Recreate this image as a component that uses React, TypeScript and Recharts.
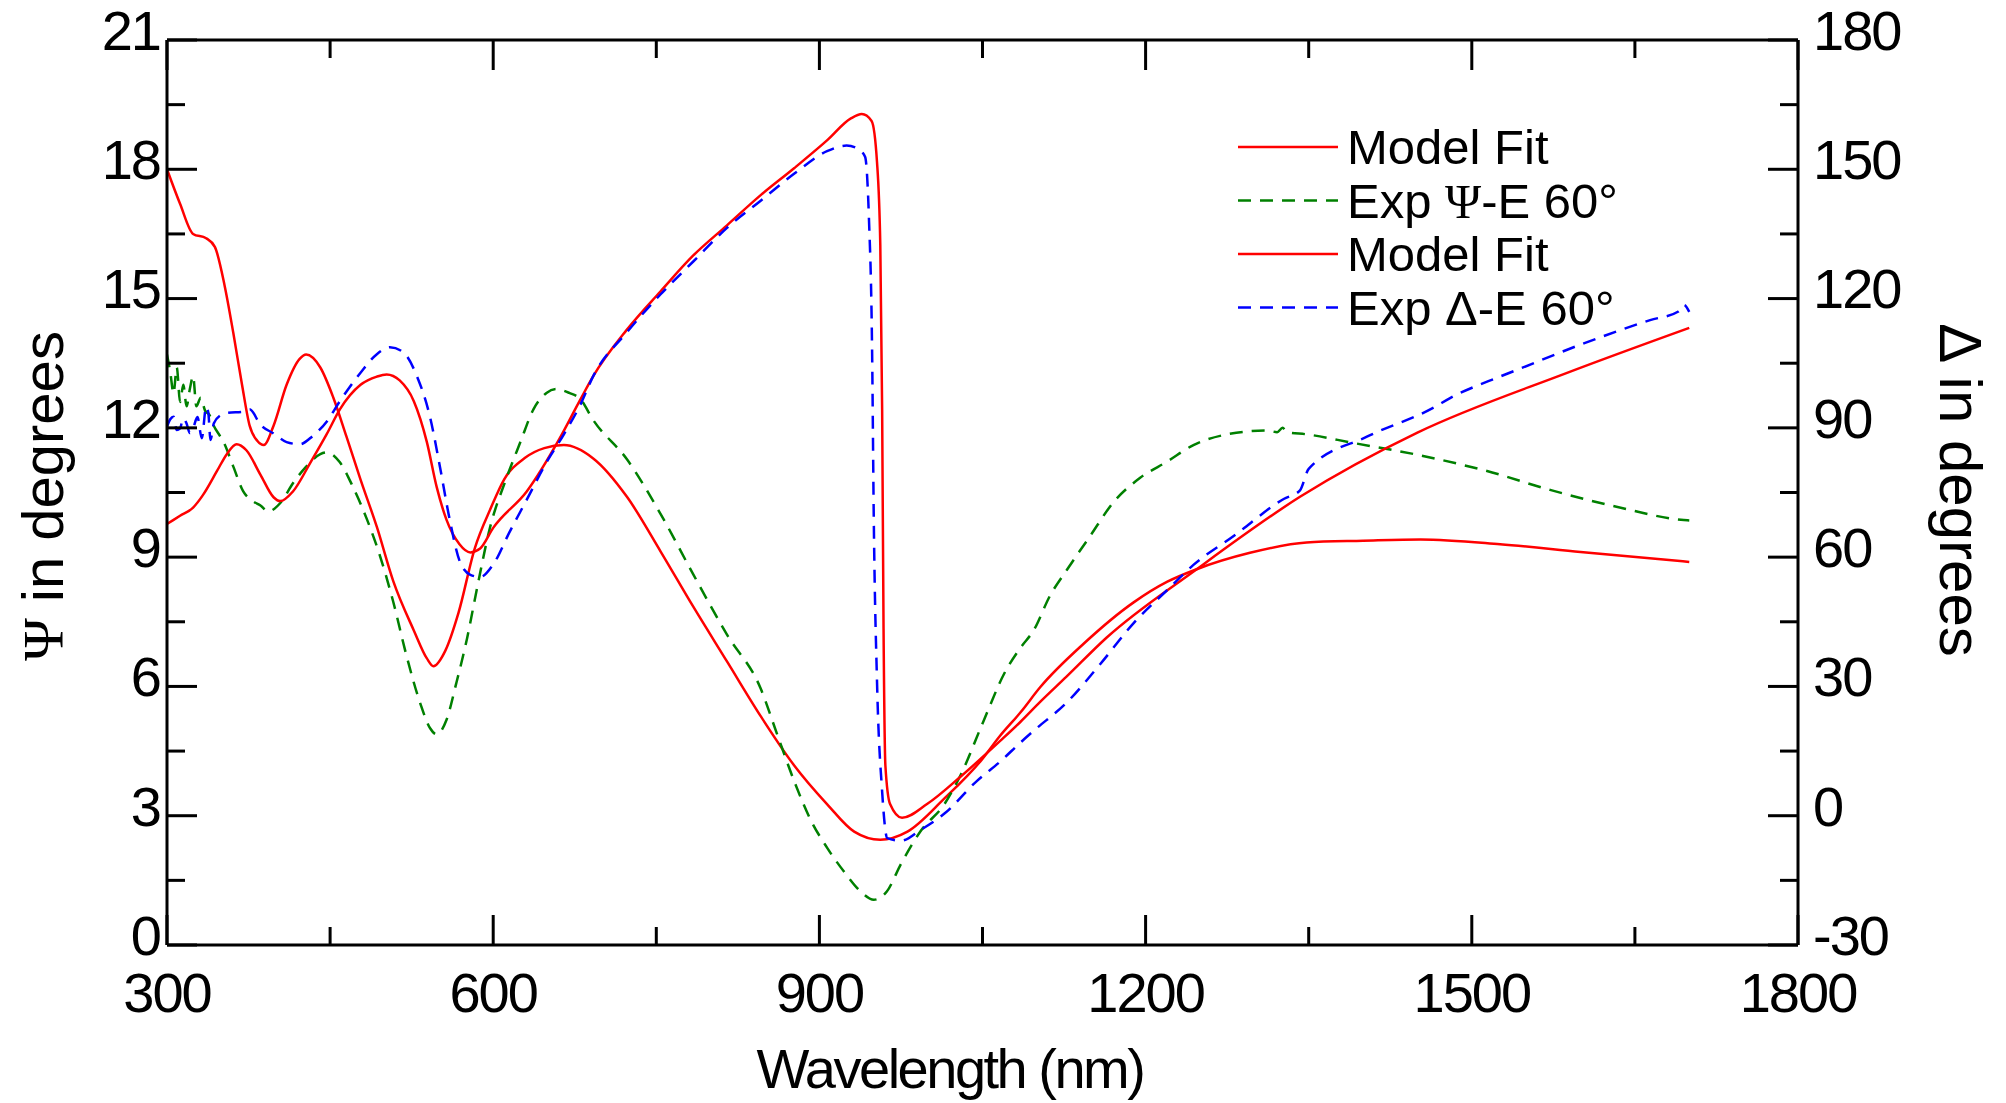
import { LineChart, Line, XAxis, YAxis, Legend } from "recharts";

// [wavelength nm, value]
const psiFit: [number, number][] = [
  [300, 18.0], [312, 17.2], [324, 16.5], [336, 16.4], [344, 16.2], [353, 15.3], [361, 14.2],
  [369, 13.0], [376, 12.05], [383, 11.7], [389, 11.6], [398, 12.05], [410, 13.0], [422, 13.6],
  [428, 13.7], [441, 13.4], [453, 12.7], [465, 11.8], [478, 10.8], [493, 9.7], [508, 8.45],
  [527, 7.3], [539, 6.65], [545, 6.47], [556, 6.83], [568, 7.7], [583, 9.2], [598, 10.15],
  [610, 10.8], [629, 11.3], [647, 11.53], [665, 11.6], [692, 11.29], [723, 10.4], [754, 9.13],
  [784, 7.85], [815, 6.58], [846, 5.31], [877, 4.16], [907, 3.27], [932, 2.63], [956, 2.44],
  [981, 2.63], [1015, 3.4], [1049, 4.29], [1066, 4.85], [1085, 5.4], [1103, 5.98], [1143, 6.99],
  [1189, 7.95], [1220, 8.43], [1247, 8.72], [1296, 9.1], [1348, 9.34], [1400, 9.38], [1453, 9.41],
  [1526, 9.3], [1600, 9.12], [1700, 8.89],
];

const psiExp: [number, number][] = [
  [300, 13.7], [303, 13.3], [306, 12.8], [309, 13.4], [312, 12.6], [315, 13.0], [318, 12.5],
  [321, 12.9], [324, 13.2], [327, 12.5], [331, 12.7], [335, 12.4], [339, 12.3], [343, 12.05],
  [349, 11.8], [352, 11.67], [361, 11.1], [370, 10.53], [379, 10.3], [386, 10.2], [393, 10.06],
  [404, 10.25], [416, 10.72], [428, 11.1], [441, 11.39], [447, 11.43], [459, 11.2], [471, 10.63],
  [484, 9.87], [496, 9.02], [508, 7.97], [520, 6.74], [533, 5.6], [542, 5.03], [548, 4.89],
  [557, 5.22], [566, 6.07], [576, 7.12], [585, 8.26], [597, 9.68], [612, 10.82], [625, 11.67],
  [637, 12.43], [649, 12.81], [658, 12.9], [670, 12.81], [680, 12.67], [692, 12.18], [723, 11.27],
  [754, 10.0], [784, 8.6], [815, 7.2], [846, 5.95], [861, 4.9], [877, 3.79], [892, 2.9],
  [907, 2.26], [923, 1.69], [938, 1.24], [950, 1.05], [962, 1.24], [975, 1.88], [993, 2.64],
  [1015, 3.27], [1030, 3.95], [1051, 5.2], [1070, 6.3], [1085, 6.9], [1097, 7.3], [1112, 8.1],
  [1128, 8.72], [1149, 9.49], [1170, 10.26], [1195, 10.84], [1220, 11.22], [1244, 11.6],
  [1275, 11.85], [1312, 11.94], [1321, 11.9], [1326, 12.0], [1330, 11.9], [1348, 11.85],
  [1391, 11.65], [1453, 11.36], [1490, 11.15], [1511, 11.02], [1572, 10.56], [1633, 10.17],
  [1695, 9.86], [1700, 9.85],
];

const deltaFit: [number, number][] = [
  [300, 67.7], [312, 69.6], [324, 71.5], [333, 74.4], [346, 80], [355, 83.9], [364, 86.2],
  [373, 84.8], [386, 79.1], [398, 73.9], [404, 73], [416, 75.3], [432, 82], [447, 88.6],
  [459, 94.3], [478, 100], [493, 101.9], [502, 102.4], [514, 101], [527, 96.2], [539, 86.7],
  [548, 76.3], [557, 68.7], [569, 63], [579, 61.1], [588, 62], [600, 66.8], [631, 75.3],
  [661, 87.5], [680, 96.5], [692, 102], [723, 112.8], [754, 121.7], [784, 130], [815, 137],
  [846, 144], [877, 150.3], [907, 156.7], [929, 161.8], [939, 162.8], [948, 161.2], [953, 151.6],
  [956, 132.5], [957.7, 94.3], [959, 43.4], [960.7, 11.6], [965, 2.7], [976, -0.5], [999, 2.7],
  [1030, 9.1], [1066, 17.3], [1085, 21.8], [1103, 26.4], [1127, 32.2], [1164, 41.3], [1247, 57.2],
  [1342, 74], [1450, 88.9], [1587, 102.7], [1700, 113.2],
];

const deltaExp: [number, number][] = [
  [300, 90.3], [303, 92.0], [306, 92.6], [309, 89.5], [312, 89.9], [315, 92.2], [318, 91],
  [321, 88.8], [324, 89.9], [328, 92.5], [332, 87.6], [336, 94.9], [338, 93.5], [340, 87.2],
  [343, 91], [349, 92.9], [356, 93.5], [370, 93.7], [376, 94.3], [386, 90.7], [398, 88.7],
  [410, 86.7], [422, 86.2], [434, 88.1], [447, 91.5], [459, 96.2], [478, 102.8], [493, 107.1],
  [505, 108.7], [517, 107.6], [530, 101.9], [542, 92.4], [551, 81], [560, 68.7], [569, 59.2],
  [579, 55.9], [588, 55.4], [600, 58.3], [615, 65.8], [631, 73.4], [649, 82], [665, 88.5],
  [680, 95.3], [692, 102], [723, 112.2], [754, 121], [784, 128.6], [815, 136.4], [846, 142.7],
  [877, 149], [907, 154.2], [925, 155.5], [935, 154.8], [942, 152.9], [945.5, 139], [948.5, 107.2],
  [950, 69.1], [953, 31], [957.7, 5.6], [962.4, -5.2], [975, -5.8], [993, -3.3], [1015, 0.5],
  [1045, 8.1], [1066, 12.5], [1085, 17], [1097, 19.7], [1128, 26.4], [1158, 35.1], [1189, 44.7],
  [1220, 52.4], [1244, 58.2], [1281, 64.9], [1327, 73.5], [1342, 75.5], [1350, 80.5], [1404, 88],
  [1465, 94.7], [1480, 96.9], [1526, 101.9], [1541, 103.4], [1603, 109.6], [1664, 115],
  [1690, 117], [1695, 118.5], [1700, 116.9],
];

const xMajor = [300, 600, 900, 1200, 1500, 1800];
const xMinor = [450, 750, 1050, 1350, 1650];
const psiMajor = [0, 3, 6, 9, 12, 15, 18, 21];
const psiMinor = [1.5, 4.5, 7.5, 10.5, 13.5, 16.5, 19.5];
const deltaMajor = [-30, 0, 30, 60, 90, 120, 150, 180];
const deltaMinor = [-15, 15, 45, 75, 105, 135, 165];

const sans = "'Liberation Sans', Arial, sans-serif";
const serif = "'Liberation Serif', 'Times New Roman', serif";
const dashed = "13 9";

const toPoints = (rows: [number, number][]) => rows.map(([wl, v]) => ({ wl, v }));

const series = [
  { name: "Model Fit", color: "#ff0000", dash: undefined, axis: "psi", data: toPoints(psiFit) },
  { name: "Exp Ψ-E 60°", color: "#008000", dash: dashed, axis: "psi", data: toPoints(psiExp) },
  { name: "Model Fit", color: "#ff0000", dash: undefined, axis: "delta", data: toPoints(deltaFit) },
  { name: "Exp Δ-E 60°", color: "#0000ff", dash: dashed, axis: "delta", data: toPoints(deltaExp) },
];

const wlDomain: [number, number] = [300, 1800];
const psiDomain: [number, number] = [0, 21];
const deltaDomain: [number, number] = [-30, 180];

const frame = { stroke: "#000", strokeWidth: 3 };
const tickText = { fill: "#000", fontSize: 56, fontFamily: sans, letterSpacing: -2 };
const noLabel = () => <g />;

// inward tick marks: mirrored 1px axes that only draw tick lines
const xTickAxes = [
  { id: "bMaj", orientation: "bottom", ticks: xMajor, size: 30, line: false },
  { id: "bMin", orientation: "bottom", ticks: xMinor, size: 17, line: false },
  { id: "tMaj", orientation: "top", ticks: xMajor, size: 30, line: true },
  { id: "tMin", orientation: "top", ticks: xMinor, size: 17, line: false },
];
const yTickAxes = [
  { id: "lMaj", orientation: "left", ticks: psiMajor, domain: psiDomain, size: 30 },
  { id: "lMin", orientation: "left", ticks: psiMinor, domain: psiDomain, size: 17 },
  { id: "rMaj", orientation: "right", ticks: deltaMajor, domain: deltaDomain, size: 30 },
  { id: "rMin", orientation: "right", ticks: deltaMinor, domain: deltaDomain, size: 17 },
];

// Greek Ψ appears in a serif face in the original
const withGreek = (label: string) =>
  label.split(/(Ψ)/).map((part, i) =>
    part === "Ψ" ? (
      <tspan key={i} fontFamily={serif}>
        {part}
      </tspan>
    ) : (
      <tspan key={i}>{part}</tspan>
    )
  );

const LegendBox = () => (
  <svg width={460} height={230} style={{ display: "block" }}>
    {series.map((s, i) => {
      const y = 37 + i * 53.5;
      return (
        <g key={i}>
          <line x1={13} x2={113} y1={y} y2={y} stroke={s.color} strokeWidth={2.5} strokeDasharray={s.dash} />
          <text x={122} y={y + 17} fontSize={49} fontFamily={sans} fill="#000">
            {withGreek(s.name)}
          </text>
        </g>
      );
    })}
  </svg>
);

export default function App() {
  return (
    <div style={{ position: "absolute", left: 0, top: 0, width: 2006, height: 1103, background: "#fff" }}>
      <LineChart width={2006} height={1103} margin={{ top: 40, right: 0, bottom: 0, left: 0 }}>
        {xTickAxes.map((a) => (
          <XAxis
            key={a.id}
            xAxisId={a.id}
            orientation={a.orientation as "top" | "bottom"}
            mirror
            type="number"
            dataKey="wl"
            domain={wlDomain}
            allowDataOverflow
            ticks={a.ticks}
            interval={0}
            height={1}
            tickSize={a.size}
            tick={noLabel}
            axisLine={a.line ? frame : false}
            tickLine={frame}
          />
        ))}
        {yTickAxes.map((a) => (
          <YAxis
            key={a.id}
            yAxisId={a.id}
            orientation={a.orientation as "left" | "right"}
            mirror
            type="number"
            domain={a.domain}
            allowDataOverflow
            ticks={a.ticks}
            interval={0}
            width={1}
            tickSize={a.size}
            tick={noLabel}
            axisLine={false}
            tickLine={frame}
          />
        ))}

        <XAxis
          xAxisId="x"
          type="number"
          dataKey="wl"
          domain={wlDomain}
          allowDataOverflow
          ticks={xMajor}
          interval={0}
          height={158}
          tickSize={0}
          tickMargin={27}
          axisLine={frame}
          tickLine={false}
          tick={tickText}
          label={{
            content: () => (
              <text x={950} y={1088} textAnchor="middle" fontSize={56} fontFamily={sans} letterSpacing={-2.5} fill="#000">
                Wavelength (nm)
              </text>
            ),
          }}
        />
        <YAxis
          yAxisId="psi"
          type="number"
          domain={psiDomain}
          allowDataOverflow
          ticks={psiMajor}
          interval={0}
          width={167}
          tickSize={0}
          tickMargin={7}
          axisLine={frame}
          tickLine={false}
          tick={{ ...tickText, dy: -10 }}
          label={{
            content: () => (
              <text x={63} y={496} transform="rotate(-90 63 496)" textAnchor="middle" fontSize={58} fontFamily={sans} fill="#000">
                <tspan fontFamily={serif}>Ψ</tspan> in degrees
              </text>
            ),
          }}
        />
        <YAxis
          yAxisId="delta"
          orientation="right"
          type="number"
          domain={deltaDomain}
          allowDataOverflow
          ticks={deltaMajor}
          interval={0}
          width={208}
          tickSize={0}
          tickMargin={15}
          axisLine={frame}
          tickLine={false}
          tick={{ ...tickText, dy: -10 }}
          label={{
            content: () => (
              <text x={1940} y={490} transform="rotate(90 1940 490)" textAnchor="middle" fontSize={60} fontFamily={sans} fill="#000">
                Δ in degrees
              </text>
            ),
          }}
        />

        {/* invisible carriers so every tick-only axis has a series bound to it */}
        {xTickAxes.map((a, i) => (
          <Line
            key={`carrier-${a.id}`}
            xAxisId={a.id}
            yAxisId={yTickAxes[i].id}
            data={series[0].data}
            dataKey="v"
            stroke="transparent"
            dot={false}
            activeDot={false}
            legendType="none"
            isAnimationActive={false}
          />
        ))}

        {series.map((s, i) => (
          <Line
            key={i}
            xAxisId="x"
            yAxisId={s.axis}
            data={s.data}
            dataKey="v"
            name={s.name}
            type="monotone"
            stroke={s.color}
            strokeWidth={2.5}
            strokeDasharray={s.dash}
            dot={false}
            activeDot={false}
            isAnimationActive={false}
          />
        ))}

        <Legend
          layout="vertical"
          align="center"
          verticalAlign="middle"
          content={() => <LegendBox />}
          wrapperStyle={{ position: "absolute", left: 1225, top: 110, width: 460, height: 230 }}
        />
      </LineChart>
    </div>
  );
}
